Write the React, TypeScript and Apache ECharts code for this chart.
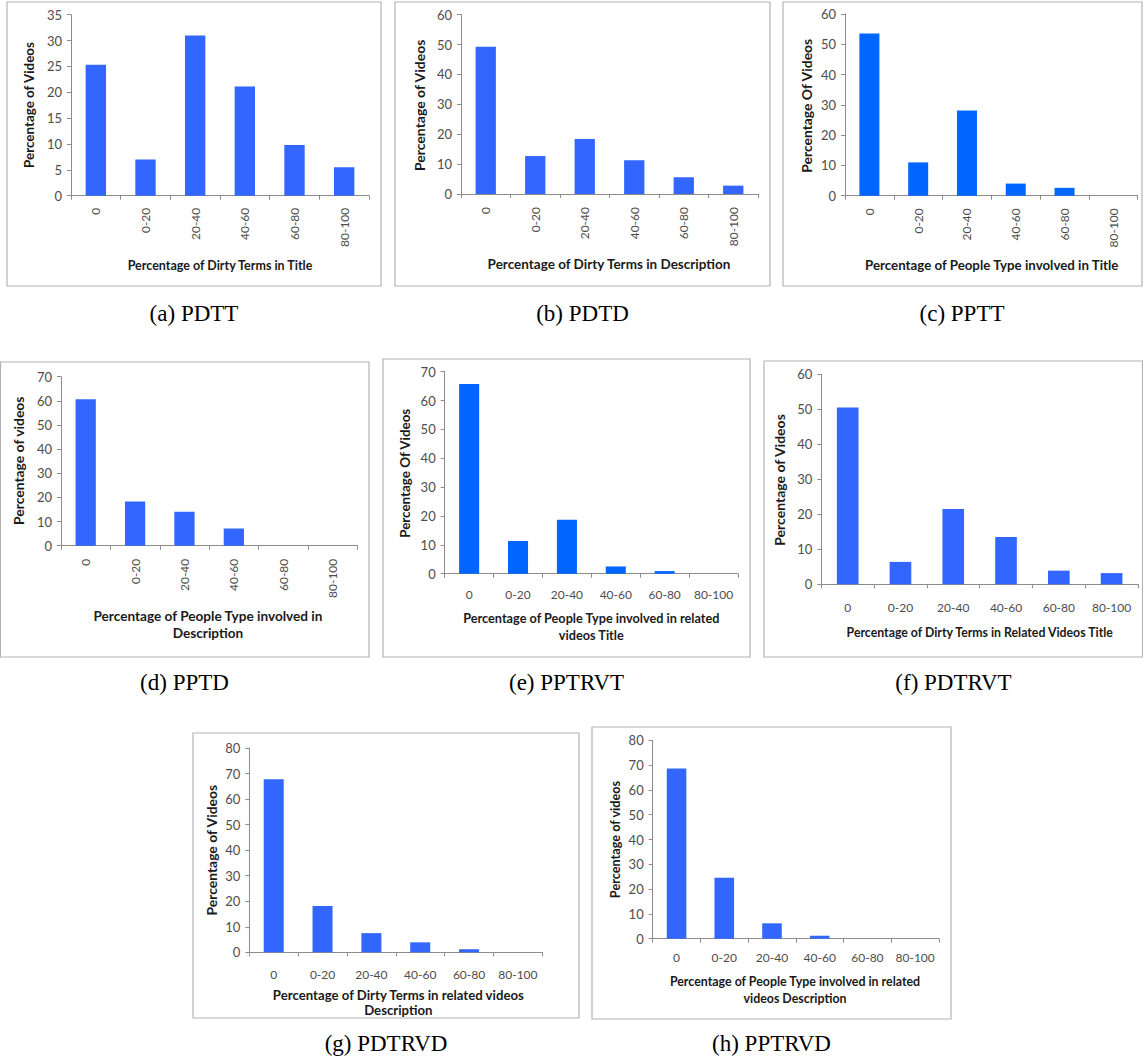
import React, { useEffect, useRef } from "react";
import * as echarts from "echarts";

// ---------- data ----------
const categories = ["0", "0-20", "20-40", "40-60", "60-80", "80-100"];

const pdttValues = [25.3, 7.0, 31.0, 21.1, 9.8, 5.5];
const pdtdValues = [49.3, 12.7, 18.4, 11.3, 5.6, 2.8];
const ppttValues = [53.6, 11.0, 28.1, 4.0, 2.6, 0];
const pptdValues = [60.7, 18.3, 14.1, 7.1, 0, 0];
const pptrvtValues = [65.7, 11.3, 18.7, 2.5, 0.9, 0];
const pdtrvtValues = [50.5, 6.4, 21.5, 13.5, 3.9, 3.2];
const pdtrvdValues = [67.8, 18.1, 7.5, 3.9, 1.2, 0];
const pptrvdValues = [68.6, 24.6, 6.2, 1.2, 0, 0];

const seriesValues = [
  pdttValues,
  pdtdValues,
  ppttValues,
  pptdValues,
  pptrvtValues,
  pdtrvtValues,
  pdtrvdValues,
  pptrvdValues,
];

const yMaxValues = [35, 60, 60, 70, 70, 60, 80, 80];
const yIntervals = [5, 10, 10, 10, 10, 10, 10, 10];

const yTitles = [
  "Percentage of Videos",
  "Percentage of Videos",
  "Percentage Of Videos",
  "Percentage of videos",
  "Percentage Of Videos",
  "Percentage of Videos",
  "Percentage of Videos",
  "Percentage of videos",
];

const xTitles = [
  "Percentage of Dirty Terms in Title",
  "Percentage of Dirty Terms in Description",
  "Percentage of People Type involved in Title",
  "Percentage of People Type involved in\nDescription",
  "Percentage of People Type involved in related\nvideos Title",
  "Percentage of Dirty Terms in Related Videos Title",
  "Percentage of Dirty Terms in related videos\nDescription",
  "Percentage of People Type involved in related\nvideos Description",
];

const captions = [
  "(a) PDTT",
  "(b) PDTD",
  "(c) PPTT",
  "(d) PPTD",
  "(e) PPTRVT",
  "(f) PDTRVT",
  "(g) PDTRVD",
  "(h) PPTRVD",
];

// ---------- layout (positions / styles only) ----------
type Layout = {
  box: [number, number, number, number];
  grid: { left: number; top: number; width: number; height: number };
  rotate: boolean;
  labelMargin: number;
  color: string;
  yTitle: [number, number];
  yFont: number;
  xTitle: [number, number];
  xFont: number;
  xLine: number;
  caption: [number, number];
};

const BLUE = "#3366FF";
const BLUE2 = "#0066FF";

const layouts: Layout[] = [
  { box: [7, 2, 374, 284], grid: { left: 71, top: 14.7, width: 298, height: 181 }, rotate: true, labelMargin: 12, color: BLUE, yTitle: [29, 105], yFont: 13.4, xTitle: [220, 265], xFont: 12.5, xLine: 16, caption: [194, 313] },
  { box: [395, 2, 375, 284], grid: { left: 461, top: 14.7, width: 297, height: 179.3 }, rotate: true, labelMargin: 13, color: BLUE, yTitle: [419, 105.3], yFont: 14, xTitle: [609, 264], xFont: 13.5, xLine: 16, caption: [582.5, 313] },
  { box: [783, 2, 359, 284], grid: { left: 845, top: 14, width: 292.7, height: 181.7 }, rotate: true, labelMargin: 12.5, color: BLUE2, yTitle: [806.7, 105.8], yFont: 13.9, xTitle: [991.7, 265], xFont: 13.3, xLine: 16, caption: [962, 313] },
  { box: [0.5, 362, 368.5, 295], grid: { left: 61, top: 376.7, width: 296.3, height: 169 }, rotate: true, labelMargin: 13, color: BLUE, yTitle: [18.3, 460.8], yFont: 13.9, xTitle: [208, 624.5], xFont: 13.6, xLine: 17.6, caption: [184.5, 682] },
  { box: [383, 359, 367, 298], grid: { left: 444.7, top: 371.7, width: 293.3, height: 202 }, rotate: false, labelMargin: 14.5, color: BLUE2, yTitle: [405.3, 473.3], yFont: 13.4, xTitle: [591.3, 626.7], xFont: 12.7, xLine: 16.7, caption: [566.5, 682] },
  { box: [764, 361, 378.5, 296], grid: { left: 821.3, top: 374.3, width: 316.7, height: 210 }, rotate: false, labelMargin: 17, color: BLUE, yTitle: [779.7, 480], yFont: 14, xTitle: [979.7, 632.7], xFont: 12.3, xLine: 16, caption: [953.5, 682] },
  { box: [193, 733, 386, 285], grid: { left: 249.3, top: 748, width: 293, height: 204.3 }, rotate: false, labelMargin: 16.4, color: BLUE, yTitle: [211.7, 850.2], yFont: 13.9, xTitle: [398.3, 1002.2], xFont: 13.2, xLine: 15, caption: [386, 1043] },
  { box: [592, 727, 359, 292], grid: { left: 652.7, top: 740.3, width: 286.3, height: 198.4 }, rotate: false, labelMargin: 12.3, color: BLUE, yTitle: [615, 839.5], yFont: 12.7, xTitle: [795, 990.3], xFont: 12.4, xLine: 16.7, caption: [771.5, 1043] },
];

const SANS = "Lato, 'Liberation Sans', sans-serif";
const SERIF = "'Liberation Serif', 'DejaVu Serif', serif";
const AXIS_COLOR = "#8c8c8c";
const LABEL_COLOR = "#4d4d4d";
const TITLE_COLOR = "#1a1a1a";

function buildOption() {
  const grid: any[] = [];
  const xAxis: any[] = [];
  const yAxis: any[] = [];
  const series: any[] = [];
  const graphic: any[] = [];

  layouts.forEach((L, i) => {
    grid.push({ ...L.grid, containLabel: false });
    xAxis.push({
      type: "category",
      gridIndex: i,
      data: categories,
      boundaryGap: true,
      axisLine: { show: true, lineStyle: { color: AXIS_COLOR, width: 1 } },
      axisTick: { show: true, length: 4, alignWithLabel: false, lineStyle: { color: AXIS_COLOR } },
      axisLabel: {
        interval: 0,
        rotate: L.rotate ? 90 : 0,
        margin: L.labelMargin,
        color: LABEL_COLOR,
        fontFamily: SANS,
        fontSize: 12,
      },
      splitLine: { show: false },
    });
    yAxis.push({
      type: "value",
      gridIndex: i,
      min: 0,
      max: yMaxValues[i],
      interval: yIntervals[i],
      axisLine: { show: true, lineStyle: { color: AXIS_COLOR, width: 1 } },
      axisTick: { show: true, length: 4, lineStyle: { color: AXIS_COLOR } },
      axisLabel: {
        margin: 9,
        color: LABEL_COLOR,
        fontFamily: SANS,
        fontSize: 13,
      },
      splitLine: { show: false },
    });
    series.push({
      type: "bar",
      xAxisIndex: i,
      yAxisIndex: i,
      data: seriesValues[i],
      barWidth: "41%",
      itemStyle: { color: L.color },
      silent: true,
    });

    const [bx, by, bw, bh] = L.box;
    graphic.push({
      type: "rect",
      shape: { x: bx, y: by, width: bw, height: bh },
      style: { fill: "none", stroke: "#b3b3b3", lineWidth: 1.2 },
      z: 1,
    });
    graphic.push({
      type: "text",
      x: L.yTitle[0],
      y: L.yTitle[1],
      rotation: Math.PI / 2,
      style: {
        text: yTitles[i],
        fontFamily: SANS,
        fontWeight: "bold",
        fontSize: L.yFont,
        fill: TITLE_COLOR,
        align: "center",
        verticalAlign: "middle",
        textAlign: "center",
        textVerticalAlign: "middle",
      },
      z: 10,
    });
    graphic.push({
      type: "text",
      x: L.xTitle[0],
      y: L.xTitle[1],
      style: {
        text: xTitles[i],
        fontFamily: SANS,
        fontWeight: "bold",
        fontSize: L.xFont,
        lineHeight: L.xLine,
        fill: TITLE_COLOR,
        align: "center",
        verticalAlign: "middle",
        textAlign: "center",
        textVerticalAlign: "middle",
      },
      z: 10,
    });
    graphic.push({
      type: "text",
      x: L.caption[0],
      y: L.caption[1],
      style: {
        text: captions[i],
        fontFamily: SERIF,
        fontSize: 23,
        fill: "#000000",
        align: "center",
        verticalAlign: "middle",
        textAlign: "center",
        textVerticalAlign: "middle",
      },
      z: 10,
    });
  });

  return {
    animation: false,
    backgroundColor: "#ffffff",
    grid,
    xAxis,
    yAxis,
    series,
    graphic,
  };
}

export default function App() {
  const ref = useRef<HTMLDivElement>(null);

  useEffect(() => {
    document.body.style.margin = "0";
    if (!ref.current) return;
    const chart = echarts.init(ref.current, undefined, { renderer: "svg" });
    chart.setOption(buildOption());
    return () => {
      chart.dispose();
    };
  }, []);

  return <div ref={ref} style={{ width: 1143, height: 1061 }} />;
}
